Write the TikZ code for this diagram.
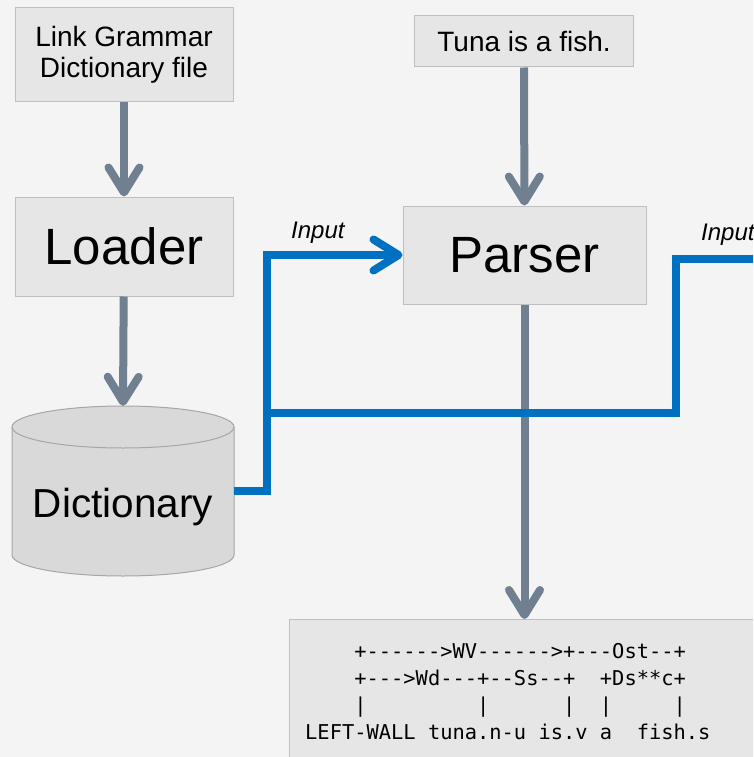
\documentclass[tikz,border=0pt]{standalone}
\usepackage{fontspec}
\setmainfont{Liberation Sans}
\setmonofont{DejaVu Sans Mono}
\usetikzlibrary{arrows.meta}
\definecolor{bg}{HTML}{F4F4F4}
\definecolor{boxfill}{HTML}{E6E6E6}
\definecolor{boxline}{HTML}{BFBFBF}
\definecolor{cylfill}{HTML}{D9D9D9}
\definecolor{cylline}{HTML}{A6A6A6}
\definecolor{arrgray}{HTML}{708090}
\definecolor{arrblue}{HTML}{0070C0}
\begin{document}
\begin{tikzpicture}[x=1pt,y=1pt,
  box/.style={draw=boxline, fill=boxfill, line width=1pt, inner sep=0pt},
  tipbarb/.style={-{Straight Barb[length=25pt,width=31pt,round]}},
  grayarrow/.style={draw=arrgray, line width=8pt, tipbarb},
  blueline/.style={draw=arrblue, line width=8pt},
  bluearrow/.style={blueline, tipbarb},
  lbl/.style={font=\fontsize{24}{28}\selectfont\itshape, inner sep=0pt}
]
\fill[bg] (0,0) rectangle (753,-757);
\useasboundingbox (0,0) rectangle (753,-757);
\clip (0,0) rectangle (753,-757);

% boxes
\node[box, minimum width=218pt, minimum height=94pt, align=center,
  font=\fontsize{28}{31}\selectfont] (lgfile) at (124,-55) {Link Grammar\\Dictionary file};
\node[box, minimum width=218pt, minimum height=99pt,
  font=\fontsize{51}{56}\selectfont] (loader) at (124,-246.5) {Loader};
\node[box, minimum width=219pt, minimum height=51pt,
  font=\fontsize{28}{31}\selectfont] (tuna) at (524,-41.5) {Tuna is a fish.};
\node[box, minimum width=243pt, minimum height=98pt,
  font=\fontsize{51}{56}\selectfont] (parser) at (524.5,-255) {Parser};
\node[box, anchor=north west, minimum width=520pt, minimum height=200pt] (out) at (289,-619) {};

% cylinder
\fill[cylfill, draw=cylline, line width=1pt]
  (12,-427) -- (12,-555) arc[start angle=180, end angle=360, x radius=111, y radius=21]
  -- (234,-427) arc[start angle=0, end angle=180, x radius=111, y radius=21] -- cycle;
\draw[cylline, line width=1pt] (12,-427) arc[start angle=180, end angle=360, x radius=111, y radius=21];
\node[minimum width=222pt, minimum height=170pt, inner sep=0pt] (dictshape) at (123,-491) {};
\node[font=\fontsize{40.5}{45}\selectfont, inner sep=0pt, anchor=base] (dict) at (123,-517) {Dictionary};

% parse output
\node[font=\ttfamily\fontsize{20.4}{27}\selectfont, align=left, anchor=north west, inner sep=0pt] (parse) at (305,-643)
{\phantom{xxxx}+------>WV------>+---Ost--+\\
\phantom{xxxx}+--->Wd---+--Ss--+\phantom{xx}+Ds**c+\\
\phantom{xxxx}|\phantom{xxxxxxxxx}|\phantom{xxxxxx}|\phantom{xx}|\phantom{xxxxx}|\\
LEFT-WALL\ tuna.n-u\ is.v\ a\phantom{xx}fish.s};

% labels
\node[lbl, anchor=base west] (inl) at (291,-238) {Input};
\node[lbl, anchor=base west] (inr) at (701,-240) {Input};

% coordinates for blue connectors
\coordinate (jd) at (267,-491);
\coordinate (split) at (267,-413);
\coordinate (rc) at (676,-413);
\coordinate (rt) at (676,-259);
\coordinate (offr) at (780,-259);

% connectors
\draw[grayarrow] (lgfile) -- (loader);
\draw[grayarrow] (loader) -- (dictshape.north);
\draw[grayarrow] (tuna) -- (parser);
\draw[grayarrow] (parser) -- (parser.south |- out.north);
\draw[bluearrow] (dictshape.east) -- (jd) |- (parser.west);
\draw[blueline] (split) -- (rc) -- (rt) -- (offr);
\end{tikzpicture}
\end{document}
